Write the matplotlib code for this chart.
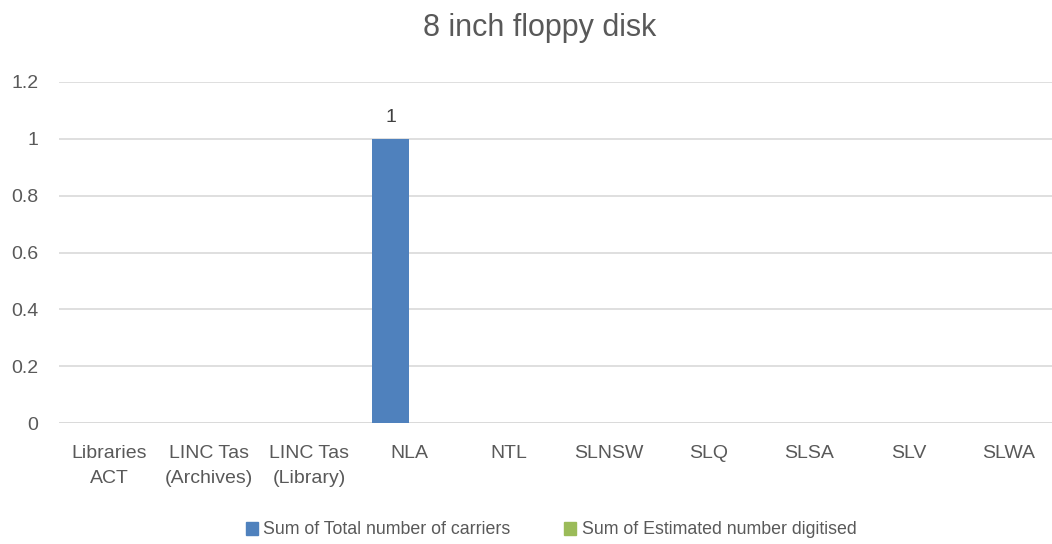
import matplotlib
matplotlib.use("Agg")
import matplotlib.pyplot as plt
import numpy as np
from matplotlib.patches import Patch

categories = ["Libraries\nACT", "LINC Tas\n(Archives)", "LINC Tas\n(Library)", "NLA", "NTL",
              "SLNSW", "SLQ", "SLSA", "SLV", "SLWA"]
total_carriers = [0, 0, 0, 1, 0, 0, 0, 0, 0, 0]
est_digitised = [0, 0, 0, 0, 0, 0, 0, 0, 0, 0]
series_names = ["Sum of Total number of carriers", "Sum of Estimated number digitised"]
title = "8 inch floppy disk"

plt.rcParams['font.family'] = ['Liberation Sans', 'DejaVu Sans']
txt = "#595959"

fig = plt.figure(figsize=(10.52, 5.44), dpi=100)
ax = fig.add_axes([59/1052, 1-423/544, 1000/1052, (423-82)/544])

x = np.arange(len(categories))
w = 0.37
b1 = ax.bar(x - w/2, total_carriers, w, color="#4F81BD", zorder=3)
b2 = ax.bar(x + w/2, est_digitised, w, color="#9BBB59", zorder=3)
for rect, v in zip(b1, total_carriers):
    if v:
        ax.text(rect.get_x() + rect.get_width()/2, v + 0.045, f"{v:g}",
                ha="center", va="bottom", fontsize=14, color="#404040")

ax.set_xlim(-0.5, len(categories) - 0.5)
ax.set_ylim(0, 1.2)
ax.set_yticks(np.arange(0, 1.21, 0.2))
ax.set_yticklabels(["0", "0.2", "0.4", "0.6", "0.8", "1", "1.2"])
ax.set_xticks(x)
ax.set_xticklabels(categories, linespacing=1.6)
ax.tick_params(axis="both", length=0, labelsize=14, labelcolor=txt)
ax.tick_params(axis="y", pad=15)
ax.tick_params(axis="x", pad=16)
ax.grid(axis="y", color="#D9D9D9", linewidth=1.2, zorder=0)
for s in ax.spines.values():
    s.set_visible(False)
ax.axhline(0, color="#D9D9D9", linewidth=1.2, zorder=2)

fig.text(540/1052, 1-28/544, title, ha="center", va="center", fontsize=22, color=txt)

handles = [Patch(color="#4F81BD"), Patch(color="#9BBB59")]
fig.legend(handles, series_names, loc="center", bbox_to_anchor=(551/1052, 1-530/544),
           ncol=2, frameon=False, fontsize=12.8, labelcolor=txt, handlelength=0.7,
           handleheight=0.7, handletextpad=0.3, columnspacing=3.0)

fig.savefig("out.png", dpi=100)
